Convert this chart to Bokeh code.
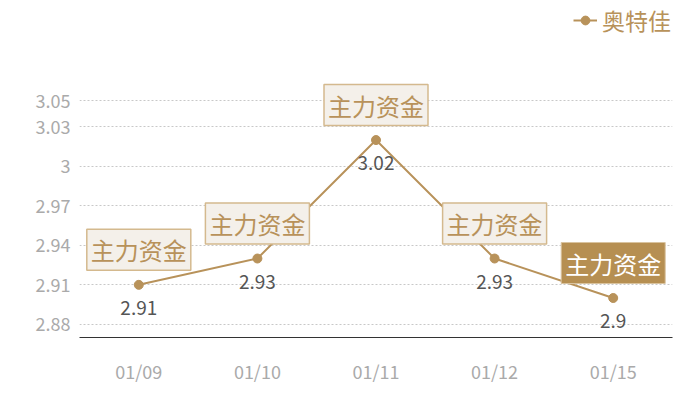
from bokeh.plotting import figure
from bokeh.models import ColumnDataSource, Range1d, FactorRange, FixedTicker, Legend, LegendItem
from bokeh.core.properties import value
from bokeh.embed import file_html
from bokeh.resources import INLINE

# ---- data ----
dates = ["01/09", "01/10", "01/11", "01/12", "01/15"]
prices = [2.91, 2.93, 3.02, 2.93, 2.90]
tags = ["主力资金", "主力资金", "主力资金", "主力资金", "主力资金"]
highlight = [False, False, False, False, True]
series_name = "奥特佳"
y_ticks = [2.88, 2.91, 2.94, 2.97, 3.0, 3.03, 3.05]
y_tick_labels = ["2.88", "2.91", "2.94", "2.97", "3", "3.03", "3.05"]
y_min, y_max = 2.87, 3.126   # top of range leaves room for tags and legend

GOLD = "#b8925a"
FONT = "Noto Sans CJK SC"

p = figure(x_range=FactorRange(*dates), y_range=Range1d(y_min, y_max),
           frame_width=593, frame_height=337,
           min_border_left=79, min_border_right=20, min_border_top=0, min_border_bottom=55,
           output_backend="svg", toolbar_location=None)
p.outline_line_color = None
p.background_fill_color = "white"
p.border_fill_color = "white"

# axes
p.yaxis.ticker = FixedTicker(ticks=y_ticks)
p.yaxis.major_label_overrides = {t: l for t, l in zip(y_ticks, y_tick_labels)}
p.yaxis.axis_line_color = None
p.yaxis.major_tick_line_color = None
p.yaxis.minor_tick_line_color = None
p.yaxis.major_label_text_color = "#aaaaaa"
p.yaxis.major_label_text_font = FONT
p.yaxis.major_label_text_font_size = "18px"
p.yaxis.major_label_standoff = 3

p.xaxis.axis_line_color = "#333333"
p.xaxis.axis_line_width = 1
p.xaxis.major_tick_line_color = None
p.xaxis.minor_tick_line_color = None
p.xaxis.major_label_text_color = "#aaaaaa"
p.xaxis.major_label_text_font = FONT
p.xaxis.major_label_text_font_size = "18px"
p.xaxis.major_label_standoff = 14

p.xgrid.visible = False
p.ygrid.grid_line_color = "#c8c8c8"
p.ygrid.grid_line_dash = "2 2"

src = ColumnDataSource(dict(x=dates, y=prices, v=[f"{v:g}" for v in prices]))
ln = p.line("x", "y", source=src, line_color=GOLD, line_width=2)
pt = p.scatter("x", "y", source=src, size=9, fill_color=GOLD, line_color=GOLD)

# value labels
p.text("x", "y", text="v", source=src, y_offset=23, text_align="center", text_baseline="middle",
       text_color="#555555", text_font=value(FONT), text_font_size="19px")

# tag labels
norm = [i for i, h in enumerate(highlight) if not h]
hl = [i for i, h in enumerate(highlight) if h]
src_n = ColumnDataSource(dict(x=[dates[i] for i in norm], y=[prices[i] for i in norm], t=[tags[i] for i in norm]))
src_h = ColumnDataSource(dict(x=[dates[i] for i in hl], y=[prices[i] for i in hl], t=[tags[i] for i in hl]))
p.text("x", "y", text="t", source=src_n, y_offset=-35, text_align="center", text_baseline="middle",
       text_color=GOLD, text_font=value(FONT), text_font_size="24px",
       background_fill_color="#f4f0ea", border_line_color="#d4b98e", border_line_width=1.5,
       padding=(4, 3))
p.text("x", "y", text="t", source=src_h, y_offset=-35, text_align="center", text_baseline="middle",
       text_color="white", text_font=value(FONT), text_font_size="24px",
       background_fill_color="#b68f52", border_line_color="#d9c39f", border_line_width=1,
       padding=(4, 3))

legend = Legend(items=[LegendItem(label=series_name, renderers=[ln, pt])],
                location=(494, 300), orientation="horizontal",
                background_fill_alpha=0, border_line_color=None,
                label_text_color=GOLD, label_text_font=FONT, label_text_font_size="23px",
                label_height=22, glyph_width=24, glyph_height=22, padding=0, margin=0,
                label_standoff=5)
p.add_layout(legend, "center")

open("out.html", "w").write(file_html(p, INLINE))
